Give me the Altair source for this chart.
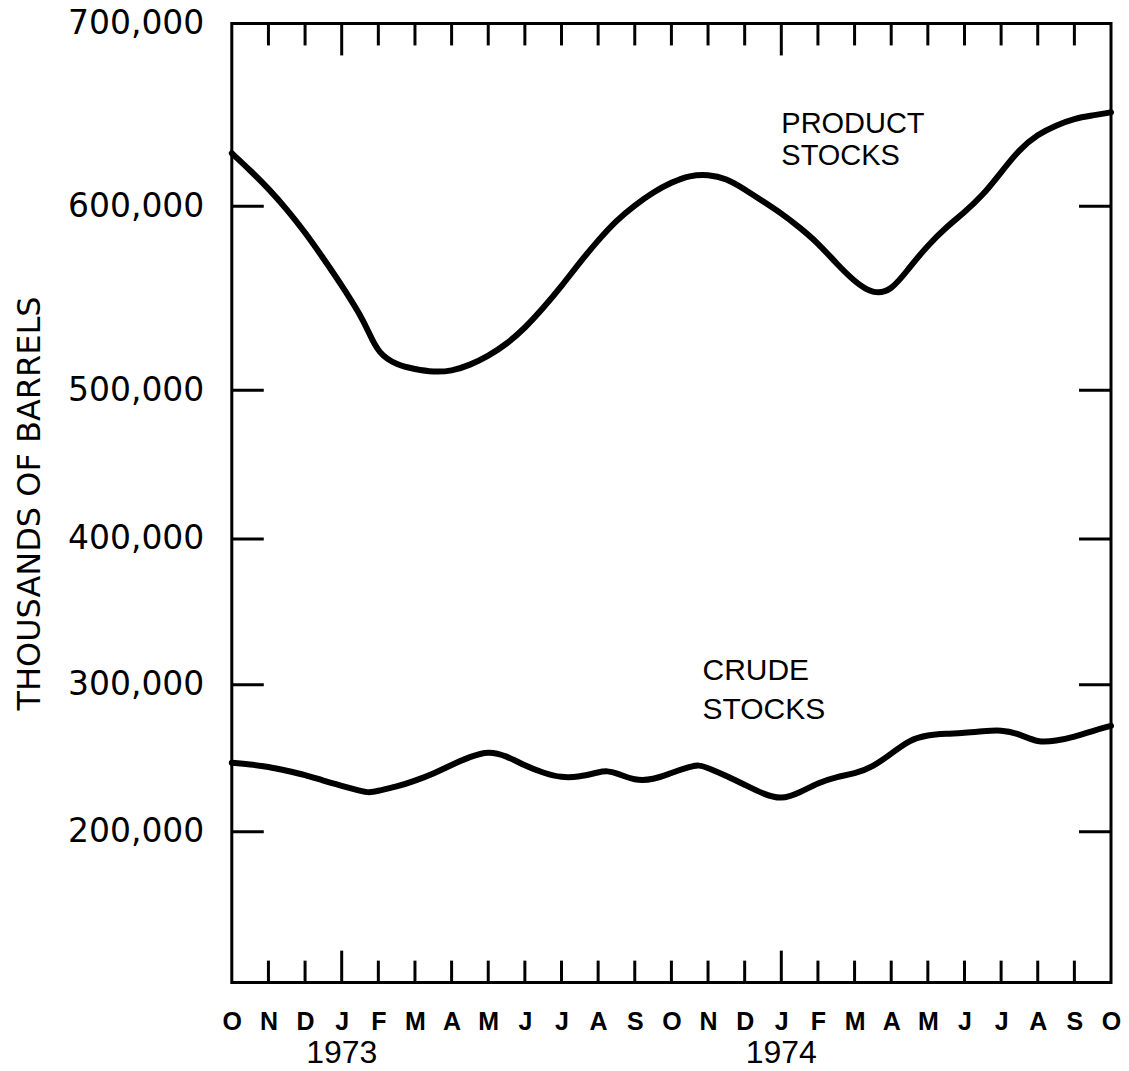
import json
import altair as alt
import pandas as pd

# ---------------- data ----------------
month_letters = ["O", "N", "D", "J", "F", "M", "A", "M", "J", "J", "A", "S",
                 "O", "N", "D", "J", "F", "M", "A", "M", "J", "J", "A", "S", "O"]
month_index = list(range(len(month_letters)))
year_labels = ["1973", "1974"]
year_months = [3, 15]

y_tick_values = [200000, 300000, 400000, 500000, 600000, 700000]

product_months = [0, 0.5, 1, 1.5, 2, 2.5, 3, 3.5, 3.75, 4, 4.5, 5, 5.5, 6, 6.5, 7, 7.5,
                  8, 8.5, 9, 9.5, 10, 10.5, 11, 11.5, 12, 12.5, 13, 13.5, 14, 14.5,
                  15, 15.5, 16, 16.5, 17, 17.5, 18, 18.5, 19, 19.5, 20, 20.5, 21,
                  21.5, 22, 22.5, 23, 23.5, 24]
product_values = [629000, 619700, 609800, 598400, 585900, 571700, 557100, 541300,
                  531000, 520100, 513600, 511400, 509800, 510300, 513600, 518500,
                  525000, 533700, 544600, 556500, 569600, 581500, 592400, 600600,
                  607700, 613100, 616900, 617500, 615300, 609300, 602700, 596200,
                  588500, 580000, 569000, 559000, 552200, 553800, 566800, 578800,
                  588600, 596700, 606000, 618600, 631200, 639400, 644300, 648100,
                  649700, 651400]

crude_months = [0, 0.5, 1, 1.5, 2, 2.5, 3, 3.5, 3.75, 4, 4.5, 5, 5.5, 6, 6.5, 7, 7.5,
                8, 8.5, 9, 9.5, 10, 10.25, 10.5, 11, 11.5, 12, 12.5, 12.75, 13, 13.5,
                14, 14.5, 15, 15.5, 16, 16.5, 17, 17.5, 18, 18.5, 19, 19.5, 20, 20.5,
                21, 21.5, 22, 22.5, 23, 23.5, 24]
crude_values = [246900, 245900, 244200, 241500, 238800, 234700, 231300, 227900,
                226500, 227900, 230600, 234700, 239500, 245600, 251000, 255100,
                251700, 244900, 240100, 236700, 237400, 240500, 241500, 240100,
                234700, 235400, 240100, 244200, 245600, 243500, 238100, 232000,
                225800, 221800, 226500, 233300, 237400, 239500, 244200, 253100,
                262600, 266000, 266700, 267300, 268400, 269400, 266700, 260500,
                261900, 264600, 268700, 272100]

product_label_text = ["PRODUCT", "STOCKS"]
product_label_months = [15.0, 15.0]
product_label_values = [645100, 627300]
crude_label_text = ["CRUDE", "STOCKS"]
crude_label_months = [12.85, 12.85]
crude_label_values = [309600, 283000]

# ---------------- layout ----------------
W, H = 880, 960
Y_DOMAIN = [100000, 200000, 300000, 400000, 500000, 600000, 700000]
Y_RANGE = [H, 809, 662, 516, 367, 183, 0]

x_scale = alt.Scale(domain=[0, 24], nice=False, zero=False)
y_scale = alt.Scale(domain=Y_DOMAIN, range=Y_RANGE, nice=False, zero=False)

label_expr = json.dumps(month_letters) + "[datum.value]"

x_axis = alt.Axis(values=month_index, labelExpr=label_expr, ticks=False,
                  domain=False, grid=False, labelFont="Liberation Sans",
                  labelFontWeight="bold", labelFontSize=25, labelPadding=27,
                  labelFlush=False, labelOverlap=False, labelColor="black",
                  title=None)
y_axis = alt.Axis(values=y_tick_values, labelExpr="format(datum.value, ',')",
                  ticks=False, domain=False,
                  grid=False, labelFont="DejaVu Sans", labelFontSize=33,
                  labelColor="black", labelPadding=28, labelOverlap=False,
                  labelFlush=False,
                  title="THOUSANDS OF BARRELS", titleFont="DejaVu Sans",
                  titleFontSize=32, titleFontWeight="normal",
                  titleColor="black", titleAngle=270, titleAlign="center",
                  titleBaseline="alphabetic", titleX=-192, titleY=H / 2)

X = alt.X("month:Q", scale=x_scale, axis=x_axis)
Y = alt.Y("value:Q", scale=y_scale, axis=y_axis)

lines_df = pd.concat([
    pd.DataFrame({"month": product_months, "value": product_values, "series": "product"}),
    pd.DataFrame({"month": crude_months, "value": crude_values, "series": "crude"}),
])

lines = alt.Chart(lines_df).mark_line(
    color="black", strokeWidth=6, interpolate="basis",
    strokeCap="round", strokeJoin="round"
).encode(x=X, y=Y, detail="series:N")

xt_df = pd.DataFrame({"month": month_index[1:-1]})
xt_df["long"] = xt_df["month"].isin(year_months)
yt_df = pd.DataFrame({"value": y_tick_values[:-1]})


def xticks(long, top):
    length = 32 if long else 22
    base = alt.Chart(xt_df).transform_filter(
        alt.datum.long if long else ~alt.datum.long
    ).mark_rule(color="black", strokeWidth=3)
    if top:
        return base.encode(x=X, y=alt.value(0), y2=alt.value(length))
    return base.encode(x=X, y=alt.value(H), y2=alt.value(H - length))


yticks_left = alt.Chart(yt_df).mark_rule(color="black", strokeWidth=3).encode(
    y=Y, x=alt.value(0), x2=alt.value(32))
yticks_right = alt.Chart(yt_df).mark_rule(color="black", strokeWidth=3).encode(
    y=Y, x=alt.value(W - 32), x2=alt.value(W))

prod_lab = alt.Chart(pd.DataFrame({"label": product_label_text, "month": product_label_months,
                                   "value": product_label_values})).mark_text(
    align="left", baseline="middle", font="Liberation Sans",
    fontSize=29, color="black"
).encode(x=X, y=Y, text="label:N")

crude_lab = alt.Chart(pd.DataFrame({"label": crude_label_text, "month": crude_label_months,
                                    "value": crude_label_values})).mark_text(
    align="left", baseline="middle", font="Liberation Sans",
    fontSize=30, color="black"
).encode(x=X, y=Y, text="label:N")

year_lab = alt.Chart(pd.DataFrame({"label": year_labels, "month": year_months})).mark_text(
    align="center", baseline="middle", font="Liberation Sans", fontSize=32, color="black"
).encode(x=X, y=alt.value(H + 70), text="label:N")

chart = alt.layer(
    lines,
    xticks(False, False), xticks(True, False), xticks(False, True), xticks(True, True),
    yticks_left, yticks_right, prod_lab, crude_lab, year_lab,
).properties(
    width=W, height=H,
    autosize=alt.AutoSizeParams(type="none"),
    padding={"left": 224, "top": 15, "right": 10, "bottom": 86},
).configure_view(stroke="black", strokeWidth=3)

chart.save("out.html", embed_options={"renderer": "svg", "actions": False})
